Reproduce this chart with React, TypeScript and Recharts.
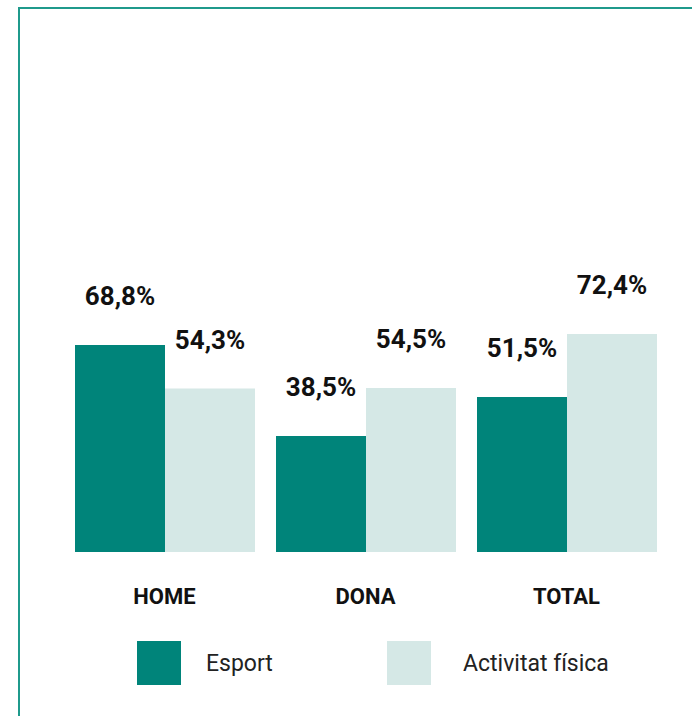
import React from 'react';
import { BarChart, Bar, XAxis, YAxis, LabelList } from 'recharts';

const CATEGORIES = ['HOME', 'DONA', 'TOTAL'];
const ESPORT = [68.8, 38.5, 51.5];
const ACTIVITAT = [54.3, 54.5, 72.4];

const SERIES_NAMES = ['Esport', 'Activitat física'];
const COLORS = ['#00847a', '#d5e8e6'];

const data = CATEGORIES.map((name, i) => ({
  name,
  esport: ESPORT[i],
  activitat: ACTIVITAT[i],
}));

const fmt = (v: number) => v.toFixed(1).replace('.', ',') + '%';

const ValueLabel = (props: any) => {
  const { x, y, width, value } = props;
  return (
    <text
      x={x + width / 2}
      y={y - 40}
      textAnchor="middle"
      fill="#111"
      fontFamily="Roboto"
      fontWeight={700}
      fontSize={26}
    >
      {fmt(value)}
    </text>
  );
};

const CategoryTick = (props: any) => {
  const { x, y, payload } = props;
  return (
    <text
      x={x}
      y={y + 44}
      textAnchor="middle"
      fill="#111"
      fontFamily="Roboto"
      fontWeight={700}
      fontSize={22}
    >
      {payload.value}
    </text>
  );
};

const App = () => {
  return (
    <div style={{ position: 'absolute', left: 0, top: 0, width: 692, height: 716, background: '#fff', fontFamily: 'Roboto' }}>
      <div
        style={{
          position: 'absolute',
          left: 18,
          top: 7,
          right: 0,
          bottom: 0,
          borderTop: '2px solid #1f9a8c',
          borderLeft: '2px solid #1f9a8c',
        }}
      />
      <BarChart
        width={692}
        height={716}
        data={data}
        margin={{ top: 251, right: 25, bottom: 134, left: 64 }}
        barGap={0}
        style={{ position: 'absolute', left: 0, top: 0 }}
      >
        <XAxis dataKey="name" axisLine={false} tickLine={false} tick={<CategoryTick />} height={30} />
        <YAxis hide domain={[0, 100]} />
        <Bar dataKey="esport" name={SERIES_NAMES[0]} fill={COLORS[0]} barSize={90} isAnimationActive={false}>
          <LabelList dataKey="esport" content={<ValueLabel />} />
        </Bar>
        <Bar dataKey="activitat" name={SERIES_NAMES[1]} fill={COLORS[1]} barSize={90} isAnimationActive={false}>
          <LabelList dataKey="activitat" content={<ValueLabel />} />
        </Bar>
      </BarChart>
      {SERIES_NAMES.map((name, i) => (
        <React.Fragment key={name}>
          <div
            style={{
              position: 'absolute',
              left: i === 0 ? 137 : 387,
              top: 641,
              width: 44,
              height: 44,
              background: COLORS[i],
            }}
          />
          <div
            style={{
              position: 'absolute',
              left: i === 0 ? 206 : 463,
              top: 649,
              fontSize: 23,
              lineHeight: '30px',
              color: '#222',
              fontFamily: 'Roboto',
            }}
          >
            {name}
          </div>
        </React.Fragment>
      ))}
    </div>
  );
};

export default App;
